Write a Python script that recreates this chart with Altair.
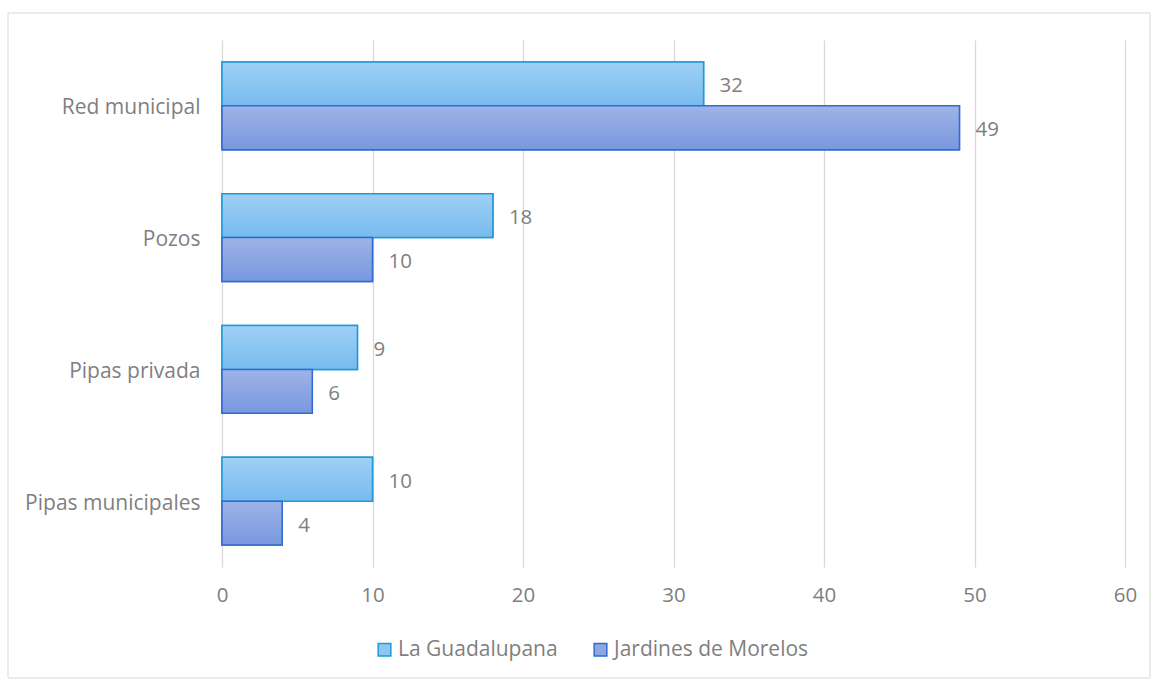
import altair as alt
import pandas as pd

categories = ["Red municipal", "Pozos", "Pipas privada", "Pipas municipales"]
series = ["La Guadalupana", "Jardines de Morelos"]
la_guadalupana = [32, 18, 9, 10]
jardines_de_morelos = [49, 10, 6, 4]
x_ticks = [0, 10, 20, 30, 40, 50, 60]

rows = []
for c, a, b in zip(categories, la_guadalupana, jardines_de_morelos):
    rows.append({"category": c, "series": series[0], "value": a})
    rows.append({"category": c, "series": series[1], "value": b})
df = pd.DataFrame(rows)

FONT = "Open Sans"
FS = 21
FSN = 20.5
GRAY = "#7F7F7F"
fills = ["#8CC6F1", "#8BA6E3"]
strokes = ["#1E9AD8", "#2F6BD0"]
grads = [
    {"gradient": "linear", "x1": 0, "y1": 0, "x2": 0, "y2": 1,
     "stops": [{"offset": 0, "color": "#9ED0F5"}, {"offset": 1, "color": "#78BBEE"}]},
    {"gradient": "linear", "x1": 0, "y1": 0, "x2": 0, "y2": 1,
     "stops": [{"offset": 0, "color": "#9EB3E8"}, {"offset": 1, "color": "#7898DE"}]},
]

y_enc = alt.Y("category:N", sort=categories, title=None,
              scale=alt.Scale(paddingInner=0.335, paddingOuter=0.167),
              axis=alt.Axis(domain=False, ticks=False, labelFontSize=FS, labelColor=GRAY,
                            labelFont=FONT, labelPadding=22, labelLimit=300,
                            labelOffset=2.5))
yoff_enc = alt.YOffset("series:N", sort=series,
                       scale=alt.Scale(domain=series, paddingInner=0, paddingOuter=0))
x_enc = alt.X("value:Q", title=None,
              scale=alt.Scale(domain=[0, 60], nice=False),
              axis=alt.Axis(values=x_ticks, domain=False, ticks=False, grid=True,
                            gridColor="#D9D9D9", gridWidth=1.3, labelFontSize=FSN,
                            labelColor=GRAY, labelFont=FONT, labelPadding=18,
                            labelFlush=False))

base = alt.Chart(df)

legend_bars = base.mark_bar(strokeWidth=1.5).encode(
    y=y_enc, yOffset=yoff_enc, x=x_enc,
    fill=alt.Fill("series:N", sort=series, title=None,
                  scale=alt.Scale(domain=series, range=fills),
                  legend=alt.Legend(orient="none", direction="horizontal",
                                    legendX=152, legendY=599, symbolType="square",
                                    symbolSize=160, symbolStrokeWidth=1.5,
                                    labelFontSize=FS, labelColor=GRAY, labelFont=FONT,
                                    labelLimit=400, columnPadding=32, labelOffset=3)),
    stroke=alt.Stroke("series:N", sort=series, title=None,
                      scale=alt.Scale(domain=series, range=strokes), legend=None),
)

layers = [legend_bars]
for i, s in enumerate(series):
    layers.append(
        base.transform_filter(alt.datum.series == s)
        .mark_bar(color=grads[i], stroke=strokes[i], strokeWidth=1.5)
        .encode(y=y_enc, yOffset=yoff_enc, x=x_enc)
    )

labels = base.mark_text(align="left", baseline="middle", dx=16, dy=2.5, fontSize=FSN,
                        color=GRAY, font=FONT).encode(
    y=y_enc, yOffset=yoff_enc, x=x_enc, text=alt.Text("value:Q"))
layers.append(labels)

border = alt.Chart(alt.Data(values=[{"a": 1}])).mark_rect(
    filled=False, stroke="#D9D9D9", strokeWidth=1).encode(
    x=alt.value(-214), x2=alt.value(928), y=alt.value(-27), y2=alt.value(638))

chart = alt.layer(border, *layers).properties(
    width=903, height=527,
    autosize=alt.AutoSizeParams(type="none"),
    padding={"left": 222, "top": 40, "right": 31, "bottom": 114},
    background="white",
).configure_view(stroke=None)

chart.save("out.html", embed_options={"renderer": "svg", "actions": False})
